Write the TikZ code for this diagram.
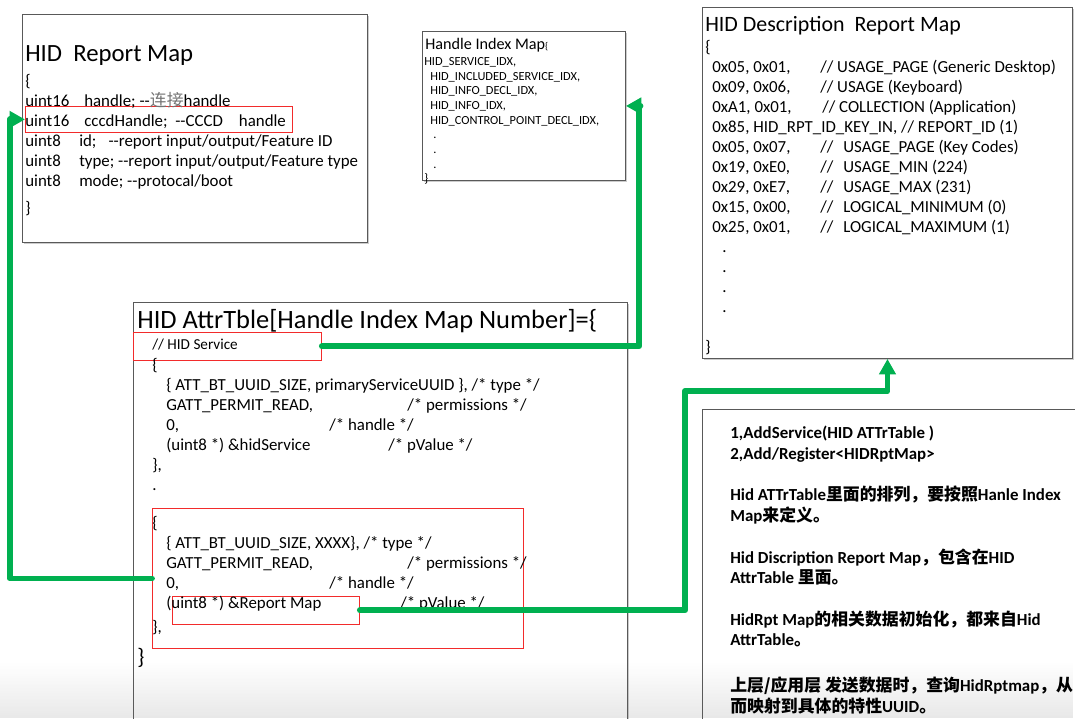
\documentclass[tikz,border=0pt]{standalone}
\usepackage{fontspec}
\setmainfont{Carlito}
\newfontfamily\cjk{Noto Sans CJK SC}
\usetikzlibrary{arrows.meta,shadows,fadings}
\definecolor{linkgreen}{HTML}{00B050}
\definecolor{markred}{HTML}{F22B2B}
\newcommand{\zh}[1]{{\cjk #1}}
\newcommand{\dd}{\mbox{-}\mbox{-}}
\newcommand{\col}[2]{\makebox[#1][l]{#2}}
\newcommand{\ind}{\hspace*{0.35cm}}

\tikzset{
  panel/.style={draw=black!65, line width=0.6pt, fill=white, inner sep=0pt, anchor=north west,
    drop shadow={shadow xshift=0.8pt, shadow yshift=-0.8pt, opacity=0.4}},
  redmark/.style={draw=markred, line width=0.6pt, inner sep=0pt, anchor=north west},
  % multi-line text, placed by the top of a fixed strut on its first line
  code/.style={anchor=north west, inner sep=0pt, align=left, font=\fontsize{12}{14.2}\selectfont,
    execute at begin node={\rule{0pt}{#1}}},
  code/.default=0.375cm,
  heading/.style={anchor=base west, inner sep=0pt, font=\fontsize{#1}{#1}\selectfont},
  link/.style={linkgreen, line width=4.2pt, line cap=round, line join=round},
  tip/.style={-{Triangle[length=11pt,width=11.5pt]}}
}

\begin{document}
\begin{tikzpicture}[x=0.025cm, y=-0.025cm]
\useasboundingbox (0,0) rectangle (1075,718);

% boxes
\node[panel, minimum width=8.625cm, minimum height=5.7cm] (rptmap) at (22,14) {};
\node[panel, minimum width=5.075cm, minimum height=3.725cm] (idxmap) at (422,31) {};
\node[panel, minimum width=9.25cm, minimum height=8.775cm] (descbox) at (702,7) {};
\node[panel, minimum width=12.35cm, minimum height=10.95cm] (attrtbl) at (133,302) {};
\node[panel, minimum width=9.7cm, minimum height=8.275cm] (notebox) at (702,409) {};

% red frames
\node[redmark, minimum width=6.675cm, minimum height=0.65cm] (cccdmark) at (25,106) {};
\node[redmark, minimum width=4.7cm, minimum height=0.7cm] (servicemark) at (133,332) {};
\node[redmark, minimum width=9.275cm, minimum height=3.5cm] (reportitem) at (152,508) {};
\node[redmark, minimum width=4.675cm, minimum height=0.7cm] (pvaluemark) at (172,596) {};

% fade at the bottom
\fill[black!60, opacity=0.15, path fading=north] (0,662) rectangle (1075,718);

% HID Report Map
\node[heading=17.6] (rpttitle) at (25,61) {HID\ \ Report Map};
\node[code] (rptbody) at (25,74) {\{\\
\col{1.475cm}{uint16}handle; \dd\textcolor{black!55}{\zh{连接}}handle\\
\col{1.475cm}{uint16}cccdHandle;\ \ \dd CCCD\hspace{0.4cm}handle\\
\col{1.35cm}{uint8}id;\hspace{0.3cm}\dd report input/output/Feature ID\\
\col{1.35cm}{uint8}type; \dd report input/output/Feature type\\
\col{1.35cm}{uint8}mode; \dd protocal/boot\\[5pt]
\}};

% Handle Index Map
\node[heading=11.5] (idxtitle) at (425,49) {Handle Index Map{\fontsize{7}{7}\selectfont\{}};
\node[code=0.3cm, font=\fontsize{8.8}{10.45}\selectfont] (idxbody) at (424,57) {HID\_SERVICE\_IDX,\\
\hspace*{0.15cm}HID\_INCLUDED\_SERVICE\_IDX,\\
\hspace*{0.15cm}HID\_INFO\_DECL\_IDX,\\
\hspace*{0.15cm}HID\_INFO\_IDX,\\
\hspace*{0.15cm}HID\_CONTROL\_POINT\_DECL\_IDX,\\
\hspace*{0.225cm}.\\
\hspace*{0.225cm}.\\
\hspace*{0.225cm}.\\
\}};

% HID Description Report Map
\node[heading=15.6] (desctitle) at (705,31) {HID Description\ \ Report Map};
\node[code] (descbody) at (705,40) {\{\\
\hspace*{0.175cm}\col{2.7cm}{0x05, 0x01,}// USAGE\_PAGE (Generic Desktop)\\
\hspace*{0.175cm}\col{2.7cm}{0x09, 0x06,}// USAGE (Keyboard)\\
\hspace*{0.175cm}\col{2.75cm}{0xA1, 0x01,}// COLLECTION (Application)\\
\hspace*{0.175cm}0x85, HID\_RPT\_ID\_KEY\_IN, // REPORT\_ID (1)\\
\hspace*{0.175cm}\col{2.7cm}{0x05, 0x07,}\col{0.575cm}{//}USAGE\_PAGE (Key Codes)\\
\hspace*{0.175cm}\col{2.7cm}{0x19, 0xE0,}\col{0.575cm}{//}USAGE\_MIN (224)\\
\hspace*{0.175cm}\col{2.7cm}{0x29, 0xE7,}\col{0.575cm}{//}USAGE\_MAX (231)\\
\hspace*{0.175cm}\col{2.7cm}{0x15, 0x00,}\col{0.575cm}{//}LOGICAL\_MINIMUM (0)\\
\hspace*{0.175cm}\col{2.7cm}{0x25, 0x01,}\col{0.575cm}{//}LOGICAL\_MAXIMUM (1)\\
\hspace*{0.425cm}.\\
\hspace*{0.425cm}.\\
\hspace*{0.425cm}.\\
\hspace*{0.425cm}.\\
\mbox{}\\
\}};

% HID AttrTble
\node[heading=18.8] (attrtitle) at (137,328) {HID AttrTble[Handle Index Map Number]=\{};
\node[heading=10.8] (servicetxt) at (152,349) {// HID Service};
\node[code] (servicebody) at (152,358) {\{\\
\ind\{ ATT\_BT\_UUID\_SIZE, primaryServiceUUID \}, /* type */\\
\ind\col{6.025cm}{GATT\_PERMIT\_READ,}/* permissions */\\
\ind\col{4.075cm}{0,}/* handle */\\
\ind\col{5.55cm}{(uint8 *) \&hidService}/* pValue */\\
\},\\
.};
\node[code] (reportbody) at (152,516) {\{\\
\ind\{ ATT\_BT\_UUID\_SIZE, XXXX\}, /* type */\\
\ind\col{6.025cm}{GATT\_PERMIT\_READ,}/* permissions */\\
\ind\col{4.075cm}{0,}/* handle */\\
\ind\col{5.85cm}{(uint8 *) \&Report Map}/* pValue */\\[3pt]
\},};
\node[heading=16] (attrclose) at (137,664) {\}};

% notes
\node[code, font=\fontsize{12}{14.6}\selectfont\bfseries] (notes) at (730,426) {1,AddService(HID ATTrTable )\\
2,Add/Register<HIDRptMap>\\[15pt]
Hid ATTrTable\zh{里面的排列，要按照}Hanle Index\\
Map\zh{来定义。}\\[15pt]
Hid Discription Report Map\zh{，包含在}HID\\
AttrTable \zh{里面。}\\[15pt]
HidRpt Map\zh{的相关数据初始化，都来自}Hid\\
AttrTable\zh{。}\\[18pt]
\zh{上层/应用层 发送数据时，查询}HidRptmap\zh{，从}\\
\zh{而映射到具体的特性}UUID\zh{。}};

% connectors
\coordinate (leftrail) at (10,0);
\coordinate (rightrail) at (639,0);
\coordinate (midrail) at (685,391);
\draw[link, tip] (reportitem.west) -- (reportitem.west -| leftrail) -- (leftrail |- cccdmark.west) -- (cccdmark.west);
\draw[link, tip] (servicemark.east) -- (servicemark.east -| rightrail) -- (rightrail |- idxmap.east) -- (idxmap.east);
\draw[link, tip] (pvaluemark.east) -| (midrail) -| (descbox.south);
\end{tikzpicture}
\end{document}
